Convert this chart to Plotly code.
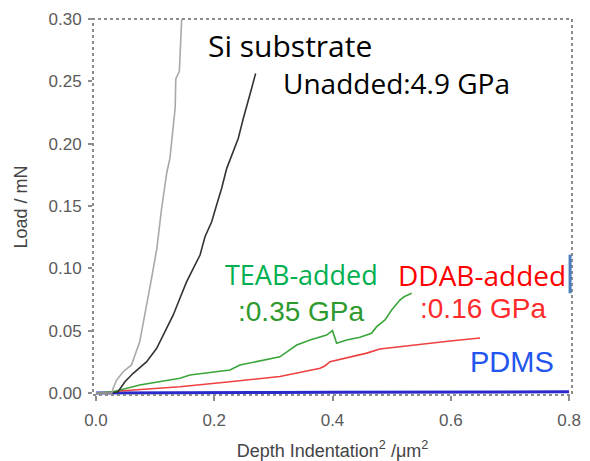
import plotly.graph_objects as go

# Si substrate (light gray)
si_x = [0.0, 0.015, 0.0266, 0.0293, 0.035, 0.046, 0.060, 0.074, 0.083, 0.094, 0.103, 0.111, 0.120, 0.125, 0.134, 0.135, 0.141, 0.145]
si_y = [0.0, 0.0, 0.0, 0.004, 0.0104, 0.0171, 0.0225, 0.041, 0.0626, 0.092, 0.116, 0.148, 0.1775, 0.188, 0.229, 0.252, 0.258, 0.300]

# Unadded (black)
un_x = [0.0, 0.02, 0.037, 0.049, 0.063, 0.0858, 0.1027, 0.1167, 0.1307, 0.142, 0.1534, 0.1646, 0.176, 0.1844,
        0.1957, 0.204, 0.2126, 0.221, 0.232, 0.2407, 0.249, 0.2576, 0.2633, 0.270]
un_y = [0.0, 0.0, 0.0008, 0.009, 0.0158, 0.0251, 0.0359, 0.0492, 0.0626, 0.076, 0.0893, 0.100, 0.1107, 0.1254,
        0.1374, 0.1508, 0.1642, 0.180, 0.1935, 0.2043, 0.220, 0.2337, 0.2444, 0.2564]

# TEAB-added (green)
teab_x = [0.0, 0.02, 0.029, 0.074, 0.142, 0.159, 0.2266, 0.2435, 0.311, 0.3395, 0.362, 0.390, 0.400, 0.407,
          0.424, 0.4465, 0.466, 0.4747, 0.4888, 0.500, 0.514, 0.521, 0.534]
teab_y = [0.0, 0.0005, 0.001, 0.0064, 0.0118, 0.0144, 0.0184, 0.0225, 0.029, 0.0385, 0.0425, 0.0465, 0.050, 0.040,
          0.0425, 0.0447, 0.0479, 0.0532, 0.0586, 0.0666, 0.0746, 0.0772, 0.080]

# DDAB-added (red)
ddab_x = [0.0, 0.02, 0.04, 0.142, 0.2266, 0.311, 0.379, 0.387, 0.3958, 0.421, 0.458, 0.480, 0.548, 0.599, 0.6495]
ddab_y = [0.0, 0.0003, 0.0016, 0.005, 0.009, 0.0132, 0.0198, 0.0217, 0.0251, 0.028, 0.032, 0.0353, 0.0393, 0.0417, 0.0441]

# PDMS (blue)
pdms_x = [0.0, 0.1, 0.2, 0.3, 0.4, 0.5, 0.6, 0.7, 0.8]
pdms_y = [0.0, 0.0003, 0.0005, 0.0005, 0.0006, 0.0006, 0.0007, 0.0008, 0.001]

x_ticks = [0.0, 0.2, 0.4, 0.6, 0.8]
x_ticklabels = ["0.0", "0.2", "0.4", "0.6", "0.8"]
y_ticks = [0.00, 0.05, 0.10, 0.15, 0.20, 0.25, 0.30]
y_ticklabels = ["0.00", "0.05", "0.10", "0.15", "0.20", "0.25", "0.30"]

fig = go.Figure()
fig.add_trace(go.Scatter(x=pdms_x, y=pdms_y, mode="lines", line=dict(color="#2a2acc", width=3)))
fig.add_trace(go.Scatter(x=ddab_x, y=ddab_y, mode="lines", line=dict(color="#ee4040", width=1.6)))
fig.add_trace(go.Scatter(x=teab_x, y=teab_y, mode="lines", line=dict(color="#3aa63a", width=1.6)))
fig.add_trace(go.Scatter(x=un_x, y=un_y, mode="lines", line=dict(color="#333333", width=1.6)))
fig.add_trace(go.Scatter(x=si_x, y=si_y, mode="lines", line=dict(color="#a8a8a8", width=1.6)))

ann_font = "Open Sans, Noto Sans, sans-serif"
arial = "Liberation Sans, Arial, sans-serif"
annotations = [
    dict(text="Si substrate", x=0.328, y=0.279, font=dict(family=ann_font, size=30, color="#000000")),
    dict(text="Unadded:4.9 GPa", x=0.509, y=0.2487, font=dict(family=ann_font, size=28, color="#000000")),
    dict(text="TEAB-added", x=0.347, y=0.0947, font=dict(family=ann_font, size=27, color="#00b050")),
    dict(text=":0.35 GPa", x=0.347, y=0.065, font=dict(family=arial, size=28, color="#2e9a2e")),
    dict(text="DDAB-added", x=0.653, y=0.0947, font=dict(family=ann_font, size=28, color="#ff0000")),
    dict(text=":0.16 GPa", x=0.6545, y=0.0674, font=dict(family=arial, size=28, color="#ff2a2a")),
    dict(text="PDMS", x=0.7036, y=0.0249, font=dict(family=arial, size=29, color="#2255ee")),
]
for a in annotations:
    a.update(xref="x", yref="y", showarrow=False, xanchor="center", yanchor="middle")

fig.update_layout(
    width=582, height=453,
    margin=dict(l=85, r=18, t=11, b=66, autoexpand=False),
    paper_bgcolor="white", plot_bgcolor="white",
    showlegend=False,
    annotations=annotations,
    shapes=[
        dict(type="rect", xref="paper", yref="paper", x0=0, y0=0, x1=1, y1=1,
             line=dict(color="#8c8c8c", width=2, dash="dot")),
        dict(type="line", xref="paper", yref="y", x0=0.996, x1=0.996, y0=0.080, y1=0.111,
             line=dict(color="#4a7ebb", width=3)),
    ],
    xaxis=dict(
        range=[-0.005, 0.805], tickmode="array", tickvals=x_ticks, ticktext=x_ticklabels,
        showgrid=False, zeroline=False, showline=False, automargin=False,
        ticks="outside", ticklen=5, tickwidth=1.5, tickcolor="#8c8c8c", ticklabelstandoff=5,
        tickfont=dict(family=arial, size=17, color="#5a5a5a"),
        title=dict(text="Depth Indentation<sup>2</sup> /μm<sup>2</sup>",
                   font=dict(family=arial, size=18, color="#444444"), standoff=20),
    ),
    yaxis=dict(
        range=[-0.0016, 0.3], tickmode="array", tickvals=y_ticks, ticktext=y_ticklabels,
        showgrid=False, zeroline=False, showline=False, automargin=False,
        ticks="outside", ticklen=4, tickwidth=1.5, tickcolor="#8c8c8c", ticklabelstandoff=3,
        tickfont=dict(family=arial, size=17, color="#5a5a5a"),
        title=dict(text="Load / mN", font=dict(family=arial, size=18, color="#444444"), standoff=16),
    ),
)

fig.write_html("out.html")
